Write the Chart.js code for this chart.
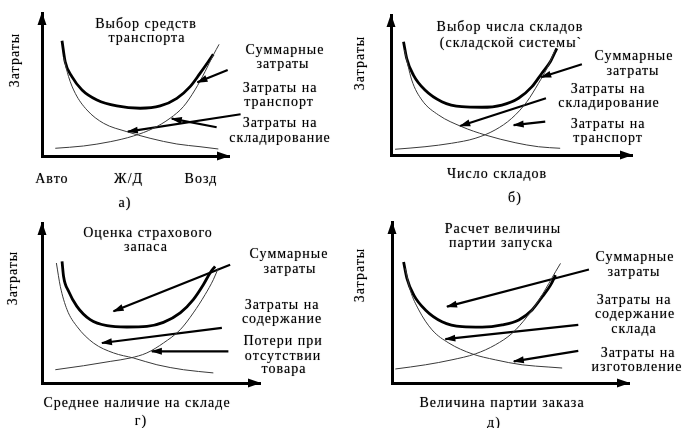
<!DOCTYPE html>
<html>
<head>
<meta charset="utf-8">
<script src="https://cdn.jsdelivr.net/npm/chart.js@4"></script>
<style>
  html, body { margin: 0; padding: 0; background: #fff; }
  #wrap { position: relative; width: 683px; height: 428px; overflow: hidden; }
  #wrap canvas { position: absolute; left: 0; top: 0; }
</style>
</head>
<body>
<div id="wrap">
  <canvas id="pa" width="683" height="428"></canvas>
  <canvas id="pb" width="683" height="428"></canvas>
  <canvas id="pc" width="683" height="428"></canvas>
  <canvas id="pd" width="683" height="428"></canvas>
</div>
<script>
// а) выбор средств транспорта  (x, y в долях оси 0..100)
const aTotal = [[10.7,80.6],[12.4,65.9],[16.0,55.5],[21.4,46.2],[29.4,39.2],[40.0,35.0],[52.5,33.4],[63.2,35.0],[72.1,40.3],[79.2,48.5],[84.5,57.8],[88.9,65.9],[91.6,71.1]];
const aFalling = [[11.6,69.0],[14.2,55.5],[17.8,43.8],[24.0,32.2],[32.9,22.9],[45.4,17.0],[57.8,12.4],[72.1,8.4],[84.5,6.5],[94.3,4.9]];
const aRising = [[7.1,5.4],[22.2,7.0],[36.5,10.0],[48.9,14.0],[59.6,19.4],[68.5,26.4],[75.6,34.5],[81.8,46.2],[87.2,59.0],[91.6,70.6],[94.7,78.1]];
const aArrows = [[[99.3,60.1],[83.1,51.5]], [[106.2,29.2],[45.9,17.0]], [[93.4,20.1],[69.4,26.1]]];
const aTicks = ['Авто', 'Ж/Д', 'Возд'];
const aTickAt = [5.3, 46.3, 85.0];

// б) выбор числа складов
const bTotal = [[5.2,80.9],[6.5,69.1],[9.3,57.1],[14.1,46.4],[21.1,38.1],[29.4,34.5],[37.7,34.1],[46.0,35.7],[52.9,40.5],[58.5,48.8],[62.6,58.4],[66.1,66.6],[68.8,76.2]];
const bFalling = [[5.6,75.0],[8.6,53.6],[12.8,39.3],[19.7,28.6],[29.4,20.2],[39.1,14.3],[51.5,8.8],[61.2,5.9],[70.2,4.8]];
const bRising = [[1.7,4.1],[14.1,5.9],[25.2,8.4],[34.9,11.9],[43.2,17.9],[50.1,26.2],[56.4,38.1],[61.2,51.2],[64.7,61.9],[68.1,75.0]];
const bArrows = [[[79.2,64.8],[62.3,55.5]], [[64.3,40.5],[28.7,20.7]], [[64.0,23.8],[50.9,21.4]]];

// г) оценка страхового запаса
const cTotal = [[9.2,76.0],[9.9,66.6],[12.2,57.3],[16.0,47.9],[22.1,39.6],[29.8,35.8],[38.9,35.0],[48.1,35.4],[55.7,37.9],[63.4,43.8],[69.4,52.1],[74.0,61.4],[77.1,68.8],[79.4,72.9]];
const cFalling = [[6.6,75.0],[8.4,60.4],[11.5,45.8],[16.0,35.4],[23.6,25.0],[32.8,18.8],[42.0,15.6],[52.7,11.4],[64.9,8.3],[78.6,6.3]];
const cRising = [[6.1,8.3],[19.1,10.8],[31.3,13.5],[40.4,15.6],[48.1,18.8],[55.7,25.0],[63.4,33.3],[69.4,43.8],[74.8,55.2],[78.6,64.6],[80.9,71.9]];
const cArrows = [[[86.3,73.9],[32.8,44.8]], [[82.5,34.4],[27.5,25.0]], [[85.5,19.8],[50.4,19.8]]];

// д) расчет величины партии запуска
const dTotal = [[4.9,75.2],[6.3,65.0],[9.2,54.6],[14.1,45.4],[21.1,38.1],[29.6,35.0],[38.0,34.7],[46.5,36.1],[53.5,39.2],[59.1,45.4],[63.4,53.6],[66.9,60.8],[69.0,67.0]];
const dFalling = [[5.6,71.2],[7.7,57.7],[11.3,45.4],[16.9,33.0],[24.0,24.8],[33.8,18.1],[43.6,14.4],[54.9,11.3],[66.2,9.9],[71.8,9.3]];
const dRising = [[1.4,8.7],[14.1,11.3],[25.3,14.4],[35.2,18.1],[43.6,23.7],[50.7,30.9],[57.0,41.2],[62.0,51.5],[66.2,61.9],[69.0,69.1],[71.1,74.3]];
const dArrows = [[[83.1,70.5],[23.2,47.4]], [[78.6,36.1],[22.5,27.2]], [[78.6,20.0],[51.4,13.4]]];

const SERIF = "'Liberation Serif', 'Times New Roman', serif";

function pts(arr) {
  return arr.map(p => ({ x: p[0], y: p[1] }));
}

function drawHead(ctx, x1, y1, x2, y2, len, half) {
  const ang = Math.atan2(y2 - y1, x2 - x1);
  ctx.save();
  ctx.translate(x2, y2);
  ctx.rotate(ang);
  ctx.beginPath();
  ctx.moveTo(1, 0);
  ctx.lineTo(-len, -half);
  ctx.lineTo(-len, half);
  ctx.closePath();
  ctx.fillStyle = '#000';
  ctx.fill();
  ctx.restore();
}

// стрелки на осях и выносках + подписи
const decor = {
  id: 'decor',
  afterDraw(chart, args, opts) {
    const ctx = chart.ctx;
    const xs = chart.scales.x, ys = chart.scales.y;
    const x0 = xs.getPixelForValue(0), y0 = ys.getPixelForValue(0);
    drawHead(ctx, x0, y0, x0, ys.getPixelForValue(100), 12, 4.5);
    drawHead(ctx, x0, y0, xs.getPixelForValue(100), y0, 12, 4.5);

    chart.data.datasets.forEach((ds, i) => {
      if (!ds.arrow) return;
      const el = chart.getDatasetMeta(i).data;
      drawHead(ctx, el[0].x, el[0].y, el[1].x, el[1].y, 10, 3.5);
    });

    ctx.save();
    ctx.fillStyle = '#000';
    ctx.font = '14px ' + SERIF;
    ctx.textAlign = 'center';
    ctx.textBaseline = 'middle';
    ctx.letterSpacing = '1px';
    ctx.shadowColor = 'rgba(0,0,0,0.5)';
    ctx.shadowBlur = 1;
    (opts.notes || []).forEach(n => {
      ctx.save();
      ctx.translate(n.x, n.y);
      if (n.rot) ctx.rotate(-Math.PI / 2);
      ctx.fillText(n.t, 0, 0);
      ctx.restore();
    });
    (opts.ticks || []).forEach((t, k) => {
      ctx.fillText(t, xs.getPixelForValue(opts.tickAt[k]), opts.tickY);
    });
    ctx.restore();
  }
};

function curve(arr, w, color) {
  return {
    data: pts(arr), borderColor: color, borderWidth: w, pointRadius: 0,
    cubicInterpolationMode: 'monotone', fill: false, clip: false
  };
}

function arrow(arr) {
  return {
    data: pts(arr), borderColor: '#000', borderWidth: 2.2, pointRadius: 0,
    tension: 0, fill: false, clip: false, arrow: true
  };
}

function axis() {
  return {
    type: 'linear', min: 0, max: 100,
    grid: { display: false, drawTicks: false },
    ticks: { display: false },
    border: { color: '#000', width: 3 }
  };
}

function panel(id, pad, total, falling, rising, arrows, decorOpts) {
  const sets = [
    curve(falling, 1, '#3a3a3a'),
    curve(rising, 1, '#3a3a3a'),
    curve(total, 2.8, '#000')
  ].concat(arrows.map(arrow));

  new Chart(document.getElementById(id), {
    type: 'line',
    data: { datasets: sets },
    options: {
      responsive: false,
      animation: false,
      devicePixelRatio: 1,
      events: [],
      layout: { padding: pad },
      plugins: {
        legend: { display: false },
        tooltip: { enabled: false },
        decor: decorOpts
      },
      scales: { x: axis(), y: axis() }
    },
    plugins: [decor]
  });
}

panel('pa', { left: 42, right: 454, top: 13, bottom: 272 }, aTotal, aFalling, aRising, aArrows, {
  notes: [
    { t: 'Выбор средств', x: 146, y: 24 },
    { t: 'транспорта', x: 147, y: 38 },
    { t: 'Суммарные', x: 285, y: 50 },
    { t: 'затраты', x: 283, y: 64 },
    { t: 'Затраты на', x: 280, y: 88 },
    { t: 'транспорт', x: 279, y: 102 },
    { t: 'Затраты на', x: 280, y: 123 },
    { t: 'складирование', x: 280, y: 138 },
    { t: 'Затраты', x: 15, y: 60, rot: true },
    { t: 'а)', x: 125, y: 203 }
  ],
  ticks: aTicks, tickAt: aTickAt, tickY: 179
});

panel('pb', { left: 391, right: 51, top: 15, bottom: 273 }, bTotal, bFalling, bRising, bArrows, {
  notes: [
    { t: 'Выбор числа складов', x: 510, y: 27 },
    { t: '(складской системы`', x: 511, y: 43 },
    { t: 'Суммарные', x: 634, y: 56 },
    { t: 'затраты', x: 633, y: 71 },
    { t: 'Затраты на', x: 608, y: 89 },
    { t: 'складирование', x: 609, y: 103 },
    { t: 'Затраты на', x: 608, y: 124 },
    { t: 'транспорт', x: 608, y: 138 },
    { t: 'Затраты', x: 360, y: 63, rot: true },
    { t: 'Число складов', x: 497, y: 174 },
    { t: 'б)', x: 515, y: 198 }
  ]
});

panel('pc', { left: 42, right: 423, top: 223, bottom: 45 }, cTotal, cFalling, cRising, cArrows, {
  notes: [
    { t: 'Оценка страхового', x: 148, y: 233 },
    { t: 'запаса', x: 146, y: 247 },
    { t: 'Суммарные', x: 289, y: 254 },
    { t: 'затраты', x: 290, y: 269 },
    { t: 'Затраты на', x: 282, y: 305 },
    { t: 'содержание', x: 282, y: 319 },
    { t: 'Потери при', x: 283, y: 341 },
    { t: 'отсутствии', x: 283, y: 356 },
    { t: 'товара', x: 284, y: 369 },
    { t: 'Затраты', x: 13, y: 278, rot: true },
    { t: 'Среднее наличие на складе', x: 137, y: 403 },
    { t: 'г)', x: 141, y: 421 }
  ]
});

panel('pd', { left: 392, right: 54, top: 222, bottom: 45 }, dTotal, dFalling, dRising, dArrows, {
  notes: [
    { t: 'Расчет величины', x: 503, y: 229 },
    { t: 'партии запуска', x: 501, y: 243 },
    { t: 'Суммарные', x: 635, y: 257 },
    { t: 'затраты', x: 634, y: 272 },
    { t: 'Затраты на', x: 634, y: 300 },
    { t: 'содержание', x: 635, y: 314 },
    { t: 'склада', x: 634, y: 329 },
    { t: 'Затраты на', x: 638, y: 353 },
    { t: 'изготовление', x: 637, y: 367 },
    { t: 'Затраты', x: 360, y: 275, rot: true },
    { t: 'Величина партии заказа', x: 502, y: 403 },
    { t: 'д)', x: 494, y: 423 }
  ]
});
</script>
</body>
</html>
